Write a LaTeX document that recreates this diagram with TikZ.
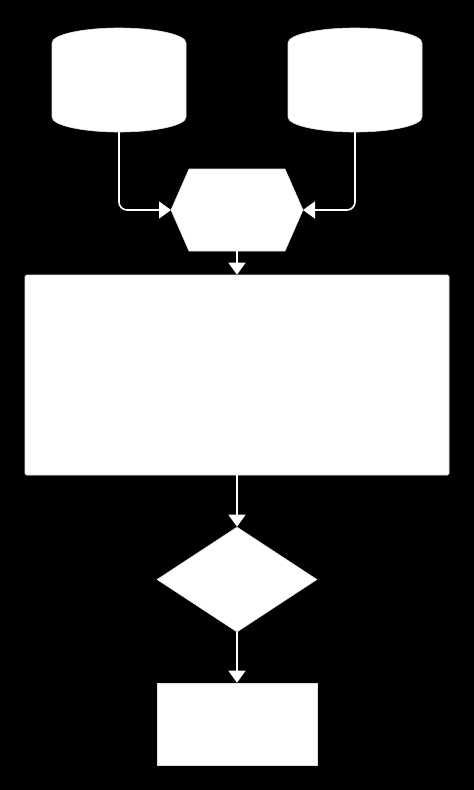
\documentclass[tikz,border=0pt]{standalone}
\usetikzlibrary{arrows.meta,shapes.geometric}
\begin{document}
\begin{tikzpicture}[x=1pt,y=-1pt,
  holder/.style={draw=none,inner sep=0pt,outer sep=0pt,rectangle},
  shapefill/.style={fill=white,draw=white!88!black,line width=0.6pt},
  conn/.style={draw=white,line width=1.6pt,rounded corners=8pt,
    -{Triangle[width=17pt,length=12pt]}},
  plain/.style={draw=white,line width=1.6pt}]
\fill[black] (0,0) rectangle (474,790);
\useasboundingbox (0,0) rectangle (474,790);
% invisible holders for the cylinders and hexagon
\node[holder,minimum width=134pt,minimum height=104pt] (cylA) at (119,80) {};
\node[holder,minimum width=134pt,minimum height=104pt] (cylB) at (355,80) {};
\node[holder,minimum width=132pt,minimum height=82pt] (hex) at (237,210) {};
\node[shapefill,rectangle,rounded corners=1.5pt,minimum width=424pt,minimum height=200pt,inner sep=0pt] (proc) at (237,375) {};
\node[shapefill,diamond,minimum width=160pt,minimum height=105pt,inner sep=0pt] (dec) at (237,579.5) {};
\node[shapefill,rectangle,minimum width=160pt,minimum height=82pt,inner sep=0pt] (out) at (237,724) {};
% cylinders
\foreach \c in {cylA,cylB}{
  \path[shapefill] ([yshift=-15pt]\c.north west)
    arc[start angle=180,end angle=0,x radius=67pt,y radius=15pt]
    -- ([yshift=15pt]\c.south east)
    arc[start angle=0,end angle=-180,x radius=67pt,y radius=15pt]
    -- cycle;
}
% hexagon
\path[shapefill] (hex.west) -- ([xshift=18pt]hex.north west) -- ([xshift=-18pt]hex.north east)
  -- (hex.east) -- ([xshift=-18pt]hex.south east) -- ([xshift=18pt]hex.south west) -- cycle;
% connectors
\draw[conn] (cylA.south) |- (hex.west);
\draw[conn] (cylB.south) |- (hex.east);
\draw[conn] (hex.south) -- (proc.north);
\draw[conn] (proc.south) -- (dec.north);
\draw[conn] (dec.south) -- (out.north);
\end{tikzpicture}
\end{document}
